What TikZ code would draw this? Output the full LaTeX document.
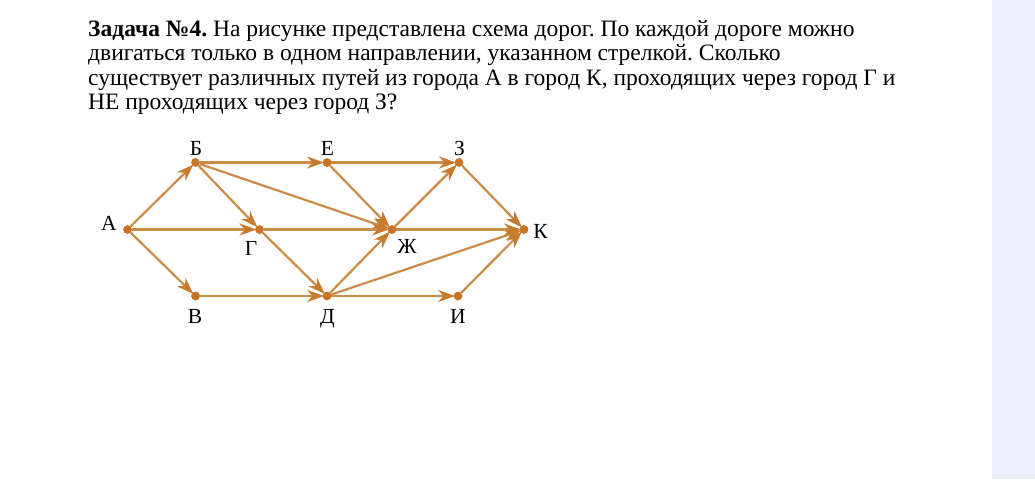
\documentclass[tikz,border=0pt]{standalone}
\usepackage{fontspec}
\setmainfont{Liberation Serif}
\usetikzlibrary{arrows.meta}
\definecolor{roadc}{RGB}{203,140,72}
\definecolor{tipc}{RGB}{200,122,45}
\definecolor{cityc}{RGB}{200,116,38}
\definecolor{stripc}{RGB}{237,240,252}
\begin{document}
\frenchspacing
\begin{tikzpicture}[x=1pt,y=-1pt,
  city/.style={circle,fill=cityc,inner sep=0pt,minimum size=8.5pt},
  road/.style={draw=roadc,line width=2.2pt,-{Stealth[length=17pt,width=12pt,inset=5.5pt,color=tipc]},shorten >=-1.5pt},
  lbl/.style={anchor=base,inner sep=0pt,font=\fontsize{21.5}{24}\selectfont},
  txt/.style={anchor=base west,inner sep=0pt,font=\fontsize{23.5}{25}\selectfont}]
\useasboundingbox (0,0) rectangle (1035,479);
\fill[white] (0,0) rectangle (1035,479);
\fill[stripc] (992,0) rectangle (1035,479);
% text
\node[txt] (t1) at (88,36) {\textbf{Задача №4.} На рисунке представлена схема дорог. По каждой дороге можно};
\node[txt] (t2) at (88,60.5) {двигаться только в одном направлении, указанном стрелкой. Сколько};
\node[txt] (t3) at (88,85) {существует различных путей из города А в город К, проходящих через город Г и};
\node[txt] (t4) at (88,109.5) {НЕ проходящих через город З?};
% cities
\node[city] (A) at (127.5,229.5) {};
\node[city] (B) at (195.5,162.5) {};
\node[city] (E) at (327,162.5) {};
\node[city] (Z) at (459,162.5) {};
\node[city] (G) at (259.5,229.5) {};
\node[city] (Zh) at (392,229.5) {};
\node[city] (K) at (524,229.5) {};
\node[city] (V) at (195.5,296) {};
\node[city] (D) at (327,296) {};
\node[city] (I) at (458,296) {};
% labels
\node[lbl] (lA) at (109,230) {А};
\node[lbl] (lB) at (196,155) {Б};
\node[lbl] (lE) at (327.5,155) {Е};
\node[lbl] (lZ) at (459.5,155) {З};
\node[lbl] (lG) at (251,255) {Г};
\node[lbl] (lZh) at (407,253) {Ж};
\node[lbl] (lK) at (540.5,238) {К};
\node[lbl] (lV) at (195,323) {В};
\node[lbl] (lD) at (327.5,323) {Д};
\node[lbl] (lI) at (458,323) {И};
% roads
\draw[road] (A) -- (B);
\draw[road] (A) -- (G);
\draw[road] (A) -- (V);
\draw[road] (B) -- (E);
\draw[road] (B) -- (G);
\draw[road] (B) -- (Zh);
\draw[road] (E) -- (Z);
\draw[road] (E) -- (Zh);
\draw[road] (G) -- (Zh);
\draw[road] (G) -- (D);
\draw[road] (V) -- (D);
\draw[road] (D) -- (Zh);
\draw[road] (D) -- (K);
\draw[road] (D) -- (I);
\draw[road] (Zh) -- (Z);
\draw[road] (Zh) -- (K);
\draw[road] (Z) -- (K);
\draw[road] (I) -- (K);
% dots on top
\foreach \n in {A,B,E,Z,G,Zh,K,V,D,I} \fill[cityc] (\n) circle (4.25pt);
\end{tikzpicture}
\end{document}
